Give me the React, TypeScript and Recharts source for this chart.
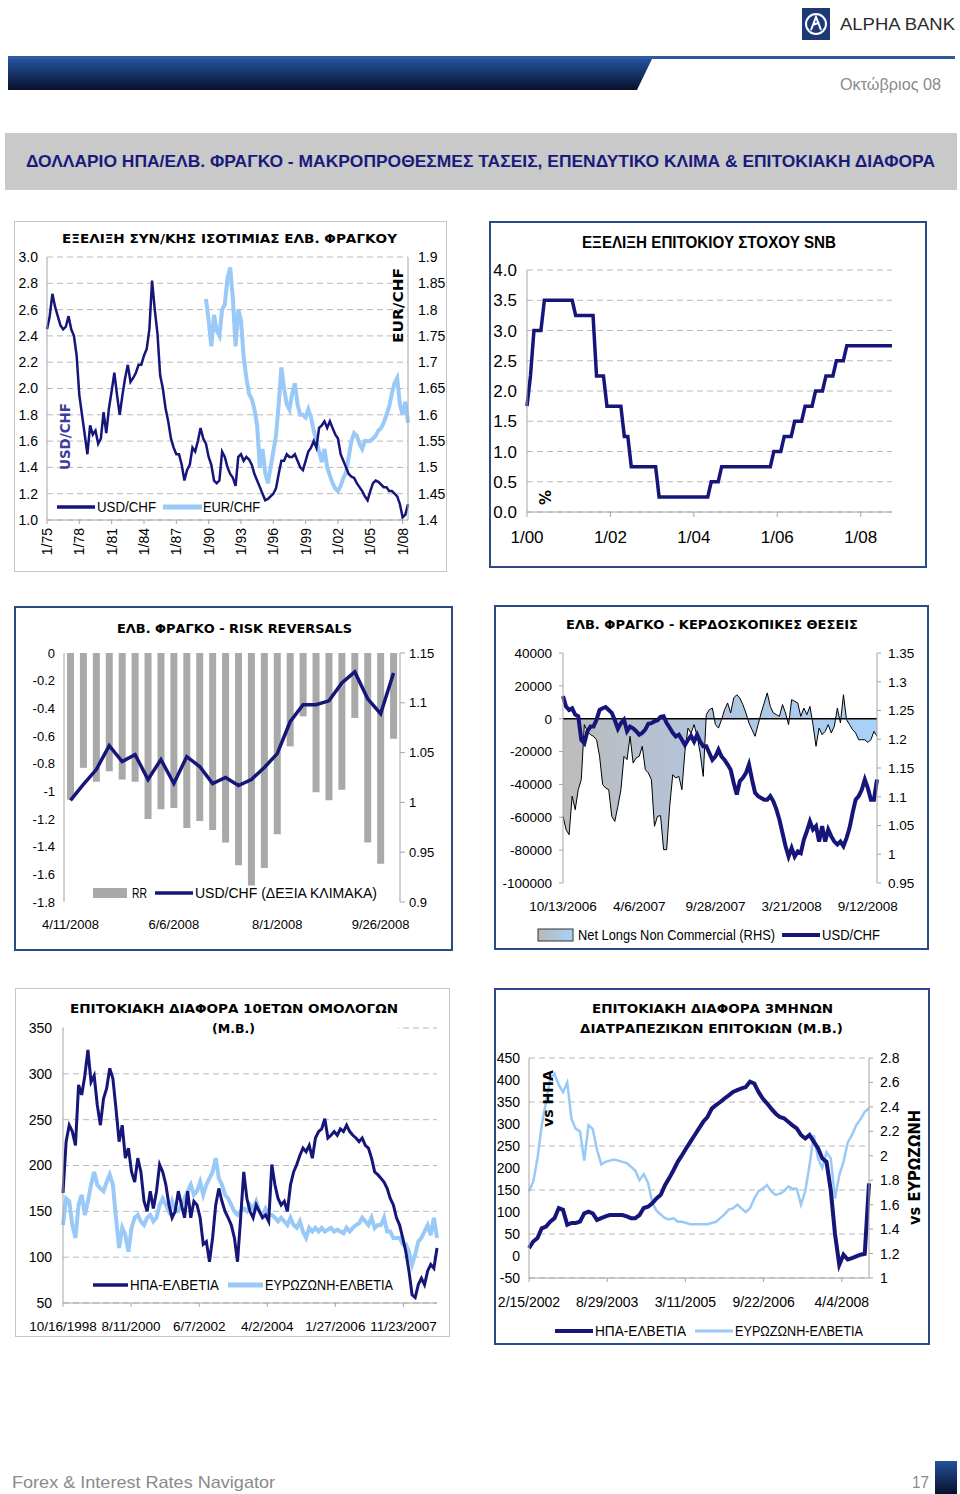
import React from 'react';
import { LineChart, Line, ComposedChart, Bar, Area, XAxis, YAxis, CartesianGrid, ReferenceLine } from 'recharts';

const NAVY = '#15157a';
const SKY = '#99c9f7';
const AXIS = '#a6a6a6';
const GRID = '#b8b8b8';
const SANS = '"Liberation Sans", Arial, sans-serif';
const VERD = '"DejaVu Sans", Verdana, sans-serif';
const GRAY_BORDER = '1px solid #c6c6c6';
const BLUE_BORDER = '2px solid #2c4a86';

// ---------- chart 1: USD/CHF & EUR/CHF, quarterly from 1975 Q1
const usdChfQ = [
  2.45, 2.55, 2.72, 2.62, 2.55, 2.48, 2.45, 2.47, 2.55, 2.45, 2.40, 2.25,
  1.95, 1.80, 1.65, 1.50, 1.72, 1.65, 1.68, 1.58, 1.62, 1.82, 1.66, 1.85,
  1.98, 2.12, 1.95, 1.80, 1.95, 2.08, 2.18, 2.05, 2.08, 2.12, 2.18, 2.18,
  2.25, 2.30, 2.45, 2.82, 2.60, 2.42, 2.10, 2.00, 1.85, 1.75, 1.62, 1.55,
  1.50, 1.50, 1.42, 1.30, 1.38, 1.42, 1.55, 1.52, 1.60, 1.70, 1.62, 1.58,
  1.48, 1.42, 1.30, 1.28, 1.30, 1.52, 1.48, 1.40, 1.35, 1.32, 1.26, 1.48,
  1.50, 1.45, 1.48, 1.46, 1.42, 1.35, 1.30, 1.25, 1.20, 1.15, 1.16, 1.18,
  1.20, 1.24, 1.35, 1.45, 1.45, 1.50, 1.48, 1.48, 1.50, 1.45, 1.40, 1.38,
  1.45, 1.52, 1.55, 1.60, 1.55, 1.70, 1.72, 1.75, 1.70, 1.75, 1.70, 1.65,
  1.62, 1.50, 1.45, 1.40, 1.35, 1.33, 1.32, 1.28, 1.25, 1.22, 1.18, 1.15,
  1.22, 1.28, 1.30, 1.29, 1.27, 1.25, 1.25, 1.22, 1.22, 1.20, 1.18, 1.12,
  1.02, 1.04, 1.12,
];
const eurChfStart = 59; // 1989 Q4
const eurChfQ = [
  1.82,
  1.78, 1.73, 1.79, 1.76, 1.75, 1.80, 1.81, 1.86, 1.88, 1.82, 1.73, 1.80,
  1.78, 1.71, 1.67, 1.64, 1.63, 1.61, 1.58, 1.50, 1.535, 1.49, 1.47, 1.50,
  1.53, 1.56, 1.62, 1.69, 1.65, 1.62, 1.61, 1.64, 1.66, 1.62, 1.60, 1.60,
  1.595, 1.61, 1.595, 1.57, 1.55, 1.53, 1.51, 1.535, 1.50, 1.485, 1.47, 1.46,
  1.455, 1.465, 1.48, 1.49, 1.52, 1.55, 1.565, 1.56, 1.545, 1.535, 1.55, 1.55,
  1.55, 1.555, 1.56, 1.57, 1.575, 1.585, 1.60, 1.615, 1.64, 1.66, 1.67, 1.62,
  1.60, 1.625, 1.585,
];
const c1Left = [1.0, 1.2, 1.4, 1.6, 1.8, 2.0, 2.2, 2.4, 2.6, 2.8, 3.0];
const c1Right = [1.4, 1.45, 1.5, 1.55, 1.6, 1.65, 1.7, 1.75, 1.8, 1.85, 1.9];

// ---------- chart 2: SNB target rate, monthly from Jan 2000
const snbRate = [
  1.75, 2.25, 3.0, 3.0, 3.0, 3.5, 3.5, 3.5, 3.5, 3.5, 3.5, 3.5,
  3.5, 3.5, 3.25, 3.25, 3.25, 3.25, 3.25, 3.25, 2.25, 2.25, 2.25, 1.75,
  1.75, 1.75, 1.75, 1.75, 1.25, 1.25, 0.75, 0.75, 0.75, 0.75, 0.75, 0.75,
  0.75, 0.75, 0.25, 0.25, 0.25, 0.25, 0.25, 0.25, 0.25, 0.25, 0.25, 0.25,
  0.25, 0.25, 0.25, 0.25, 0.25, 0.5, 0.5, 0.5, 0.75, 0.75, 0.75, 0.75,
  0.75, 0.75, 0.75, 0.75, 0.75, 0.75, 0.75, 0.75, 0.75, 0.75, 0.75, 1.0,
  1.0, 1.0, 1.25, 1.25, 1.25, 1.5, 1.5, 1.5, 1.75, 1.75, 1.75, 2.0,
  2.0, 2.0, 2.25, 2.25, 2.25, 2.5, 2.5, 2.5, 2.75, 2.75, 2.75, 2.75,
  2.75, 2.75, 2.75, 2.75, 2.75, 2.75, 2.75, 2.75, 2.75, 2.75,
];
const c2Ticks = [0, 0.5, 1, 1.5, 2, 2.5, 3, 3.5, 4];

// ---------- chart 3: risk reversals, weekly from 4/11/2008
const rrValues = [
  -1.06, -0.83, -0.93, -0.855, -0.915, -0.93, -1.2, -1.13, -1.12, -1.265, -1.215, -1.28, -1.37,
  -1.535, -1.68, -1.555, -1.31, -0.675, -0.458, -1.007, -1.065, -0.988, -0.47, -1.37, -1.523, -0.62,
];
const rrUsdChf = [
  1.002, 1.018, 1.033, 1.057, 1.041, 1.048, 1.023, 1.043, 1.019, 1.046, 1.036, 1.019, 1.025,
  1.017, 1.023, 1.035, 1.049, 1.081, 1.098, 1.098, 1.102, 1.12, 1.131, 1.104, 1.089, 1.13,
];
const c3Left = [0, -0.2, -0.4, -0.6, -0.8, -1, -1.2, -1.4, -1.6, -1.8];
const c3Right = [0.9, 0.95, 1, 1.05, 1.1, 1.15];

// ---------- chart 4: speculative positions, weekly from 10/13/2006
const netLongs = [
  -59400, -67500, -70600, -47200, -55400, -43200, -37100, -3600, -7700, -9700,
  -10700, -12800, -22900, -40100, -42200, -43200, -59400, -62500, -53300, -43200,
  -22900, -24900, -10700, -27000, -23900, -22900, -16800, -31000, -33000, -37100,
  -65500, -59400, -59000, -79700, -79700, -53300, -34100, -36100, -35100, -43200,
  -19900, -5700, -8700, -3600, -10700, -20900, -35100, 2500, 5500, 6500,
  -3600, -5700, -600, 5500, 9600, 3500, 12600, 14600, 12600, 8600,
  3500, -2600, -6700, -10700, -3600, 3500, 9600, 15700, 7500, 3500,
  2500, 1400, 8600, 3500, -3600, 11600, 10600, 9600, 1400, 6500,
  2500, 7500, -3600, -16800, -5700, -9700, -7700, -3600, -8700, -4600,
  6500, -2600, 14600, -600, -3600, -6700, -8700, -12800, -12800, -12800,
  -14400, -12800, -7700, -10700,
];
const posUsdChf = [
  1.275, 1.257, 1.251, 1.254, 1.243, 1.24, 1.199, 1.193, 1.214, 1.222,
  1.222, 1.234, 1.251, 1.254, 1.256, 1.251, 1.246, 1.233, 1.218, 1.228,
  1.234, 1.214, 1.222, 1.219, 1.214, 1.208, 1.211, 1.217, 1.227, 1.228,
  1.231, 1.233, 1.239, 1.24, 1.228, 1.22, 1.211, 1.205, 1.208, 1.199,
  1.19, 1.199, 1.206, 1.196, 1.208, 1.196, 1.188, 1.188, 1.176, 1.164,
  1.17, 1.182, 1.17, 1.164, 1.156, 1.147, 1.124, 1.104, 1.127, 1.133,
  1.141, 1.156, 1.13, 1.107, 1.101, 1.098, 1.095, 1.095, 1.101, 1.092,
  1.078, 1.06, 1.037, 1.014, 0.996, 1.011, 0.996, 1.005, 1.002, 1.025,
  1.04, 1.057, 1.043, 1.049, 1.022, 1.049, 1.022, 1.043, 1.031, 1.022,
  1.017, 1.022, 1.014, 1.028, 1.046, 1.072, 1.095, 1.101, 1.112, 1.13,
  1.115, 1.095, 1.095, 1.13,
];
const c4Left = [40000, 20000, 0, -20000, -40000, -60000, -80000, -100000];
const c4Right = [0.95, 1, 1.05, 1.1, 1.15, 1.2, 1.25, 1.3, 1.35];

// ---------- chart 5: 10y bond spreads (bp), monthly from 10/1998
const bondUs = [
  170, 226, 244, 237, 222, 288, 277, 298, 326, 291, 298, 266, 244, 273, 284, 306, 295, 262, 226, 244,
  208, 219, 193, 182, 208, 193, 161, 150, 172, 153, 172, 201, 193, 179, 157, 143, 150, 172, 157, 143,
  172, 143, 161, 157, 143, 114, 117, 95, 121, 157, 175, 161, 150, 143, 135, 121, 95, 143, 193, 164,
  150, 143, 157, 150, 143, 146, 139, 201, 179, 164, 157, 161, 150, 179, 193, 201, 211, 219, 215, 222,
  208, 230, 237, 240, 251, 230, 233, 237, 233, 240, 237, 244, 237, 233, 230, 226, 230, 222, 219, 208,
  193, 190, 186, 182, 175, 164, 157, 143, 135, 121, 106, 85, 59, 56, 70, 77, 70, 85, 92, 88,
  110,
];
const bondEu = [
  135, 164, 161, 135, 121, 157, 168, 146, 161, 179, 193, 179, 175, 172, 182, 190, 179, 143, 110, 132,
  124, 106, 132, 143, 146, 139, 135, 143, 146, 139, 143, 157, 164, 157, 150, 161, 150, 150, 157, 164,
  172, 179, 168, 172, 182, 168, 179, 186, 193, 208, 186, 179, 168, 164, 157, 150, 146, 150, 153, 150,
  157, 153, 161, 150, 146, 153, 146, 146, 143, 139, 143, 139, 135, 143, 135, 132, 139, 128, 121, 132,
  128, 132, 128, 132, 128, 130, 132, 128, 130, 128, 126, 132, 128, 132, 135, 137, 143, 139, 135, 143,
  132, 135, 135, 143, 128, 128, 121, 121, 121, 114, 114, 106, 92, 103, 117, 121, 128, 135, 124, 143,
  121,
];
const bondTickLabels = ['10/16/1998', '8/11/2000', '6/7/2002', '4/2/2004', '1/27/2006', '11/23/2007'];
const c5Left = [50, 100, 150, 200, 250, 300, 350];

// ---------- chart 6: 3m interbank spreads, monthly from 2/2002
const moneyUs = [
  18, 33, 41, 63, 67, 78, 86, 109, 105, 71, 75, 75, 78, 97, 101, 97, 82, 86, 90, 93,
  93, 93, 93, 90, 86, 86, 93, 109, 112, 120, 131, 139, 161, 177, 195, 214, 229, 245, 260, 275,
  290, 305, 316, 335, 343, 350, 358, 365, 373, 377, 381, 384, 396, 392, 373, 358, 347, 335, 324, 316,
  313, 305, 297, 290, 275, 267, 275, 260, 245, 222, 214, 150, 50, -20, 3, -8, -5, -1, 3, 5,
  165,
];
const moneyEu = [
  1.71, 1.79, 1.98, 2.25, 2.44, 2.63, 2.67, 2.58, 2.52, 2.60, 2.30, 2.22, 2.20, 1.96, 2.25, 2.22, 2.05, 1.93, 1.95, 1.96,
  1.97, 1.96, 1.95, 1.94, 1.91, 1.88, 1.80, 1.85, 1.78, 1.62, 1.55, 1.52, 1.49, 1.48, 1.49, 1.46, 1.46, 1.45, 1.44, 1.44,
  1.44, 1.44, 1.44, 1.45, 1.46, 1.49, 1.52, 1.56, 1.57, 1.60, 1.57, 1.54, 1.57, 1.65, 1.71, 1.73, 1.76, 1.71, 1.68, 1.69,
  1.71, 1.75, 1.73, 1.73, 1.60, 1.71, 1.92, 2.17, 1.98, 1.90, 2.03, 1.98, 1.65, 1.84, 1.95, 2.11, 2.17, 2.25, 2.30, 2.36,
  2.39,
];
const moneyTickLabels = ['2/15/2002', '8/29/2003', '3/11/2005', '9/22/2006', '4/4/2008'];
const c6Left = [-50, 0, 50, 100, 150, 200, 250, 300, 350, 400, 450];
const c6Right = [1, 1.2, 1.4, 1.6, 1.8, 2, 2.2, 2.4, 2.6, 2.8];

// ---------- helpers
const yy = (y: number) => String(y).slice(2);
const usDate = (d: Date) => `${d.getMonth() + 1}/${d.getDate()}/${d.getFullYear()}`;
const parseUS = (s: string) => {
  const [mo, d, y] = s.split('/').map(Number);
  return new Date(y, mo - 1, d);
};
const monthsFrom = (a: string, b: string) => (parseUS(b).getTime() - parseUS(a).getTime()) / (86400000 * 30.4375);
const num = (digits: number) => (v: number) => String(Number(v.toFixed(digits)));

const chfRows = usdChfQ.map((v, i) => ({
  q: `${[1, 4, 7, 10][i % 4]}/${yy(1975 + Math.floor(i / 4))}`,
  usd: v,
  eur: i >= eurChfStart ? eurChfQ[i - eurChfStart] : null,
}));
const snbRows = snbRate.map((v, i) => ({ m: `${(i % 12) + 1}/${yy(2000 + Math.floor(i / 12))}`, rate: v }));
const rrRows = rrValues.map((v, i) => ({ d: usDate(new Date(2008, 3, 11 + 7 * i)), rr: v, usd: rrUsdChf[i] }));
const posRows = netLongs.map((v, i) => ({ d: usDate(new Date(2006, 9, 13 + 7 * i)), net: v, usd: posUsdChf[i] }));
const bondRows = bondUs.map((v, i) => ({ m: i, us: v, eu: bondEu[i] }));
const bondTicks = bondTickLabels.map((s) => monthsFrom(bondTickLabels[0], s));
const moneyRows = moneyUs.map((v, i) => ({ m: i, us: v, eu: moneyEu[i] }));
const moneyTicks = moneyTickLabels.map((s) => monthsFrom(moneyTickLabels[0], s));
const labelAt = (ticks: number[], labels: string[]) => (v: number) => {
  const k = ticks.findIndex((t) => Math.abs(t - v) < 0.001);
  return k >= 0 ? labels[k] : '';
};

const tickStyle = (size: number) => ({ fontSize: size, fill: '#000', fontFamily: SANS });

const RotTick = (props: any) => {
  const { x, y, payload } = props;
  return (
    <text x={x} y={y} transform={`rotate(-90 ${x} ${y})`} textAnchor="end" dy="0.35em" fontSize={14} fontFamily={SANS} fill="#000">
      {payload.value}
    </text>
  );
};

function Panel({ left, top, width, height, border, children }: any) {
  return (
    <div style={{ position: 'absolute', left, top, width, height }}>
      {children}
      <div style={{ position: 'absolute', left: 0, top: 0, width, height, border, boxSizing: 'border-box', pointerEvents: 'none' }} />
    </div>
  );
}

type LP = { x: number; y: number; len?: number; size: number; bold?: boolean; fill?: string; family?: string; vertical?: boolean; children: React.ReactNode };
const Label = ({ x, y, len, size, bold, fill = '#000', family = SANS, vertical, children }: LP) => (
  <text
    x={x}
    y={y}
    fontSize={size}
    fontWeight={bold ? 700 : 400}
    fill={fill}
    fontFamily={family}
    textLength={len}
    lengthAdjust={len ? 'spacingAndGlyphs' : undefined}
    transform={vertical ? `rotate(-90 ${x} ${y})` : undefined}
  >
    {children}
  </text>
);

export default function App() {
  return (
    <div style={{ position: 'absolute', left: 0, top: 0, width: 960, height: 1494, background: '#fff', overflow: 'hidden' }}>
      {/* 1: long-term USD/CHF, EUR/CHF */}
      <Panel left={14} top={221} width={433} height={351} border={GRAY_BORDER}>
        <LineChart width={433} height={351} data={chfRows} margin={{ top: 36, right: 0, bottom: 0, left: 0 }}>
          <CartesianGrid yAxisId="l" vertical={false} stroke={GRID} strokeDasharray="6 4" />
          <XAxis dataKey="q" interval={11} height={52} tick={RotTick} tickSize={4} tickMargin={4} stroke={AXIS} />
          <YAxis yAxisId="l" width={33} domain={[1, 3]} ticks={c1Left} tickFormatter={(v: number) => v.toFixed(1)}
            tick={tickStyle(14)} stroke={AXIS} tickLine={false} tickSize={4} tickMargin={5} />
          <YAxis yAxisId="r" orientation="right" width={39} domain={[1.4, 1.9]} ticks={c1Right} tickFormatter={num(2)}
            tick={tickStyle(14)} stroke={AXIS} tickLine={false} tickSize={4} tickMargin={6} />
          <Line yAxisId="r" dataKey="eur" stroke={SKY} strokeWidth={4} dot={false} isAnimationActive={false} />
          <Line yAxisId="l" dataKey="usd" stroke={NAVY} strokeWidth={2.5} dot={false} isAnimationActive={false} />
        </LineChart>
      </Panel>

      {/* 2: SNB target rate */}
      <Panel left={489} top={221} width={438} height={347} border={BLUE_BORDER}>
        <LineChart width={438} height={347} data={snbRows} margin={{ top: 49, right: 35, bottom: 0, left: 0 }}>
          <CartesianGrid vertical={false} stroke={GRID} strokeDasharray="6 4" />
          <XAxis dataKey="m" interval={23} height={56} tick={tickStyle(17)} tickSize={5} tickMargin={14} stroke={AXIS} />
          <YAxis width={38} domain={[0, 4]} ticks={c2Ticks} tickFormatter={(v: number) => v.toFixed(1)}
            tick={tickStyle(17)} stroke={AXIS} tickLine={false} tickSize={4} tickMargin={6} />
          <Line dataKey="rate" stroke={NAVY} strokeWidth={3.5} dot={false} isAnimationActive={false} />
        </LineChart>
      </Panel>

      {/* 3: risk reversals */}
      <Panel left={14} top={606} width={439} height={345} border={BLUE_BORDER}>
        <ComposedChart width={439} height={345} data={rrRows} margin={{ top: 47, right: 0, bottom: 0, left: 0 }}>
          <XAxis dataKey="d" interval={7} height={49} axisLine={false} tickLine={false} tickSize={0} tickMargin={18} tick={tickStyle(13)} />
          <YAxis yAxisId="l" width={50} domain={[-1.8, 0]} ticks={c3Left} tickFormatter={num(1)}
            tick={tickStyle(13)} stroke={AXIS} tickLine={false} tickSize={4} tickMargin={5} />
          <YAxis yAxisId="r" orientation="right" width={53} domain={[0.9, 1.15]} ticks={c3Right} tickFormatter={num(2)}
            tick={tickStyle(13)} stroke={AXIS} tickSize={5} tickMargin={4} />
          <Bar yAxisId="l" dataKey="rr" fill="#a9a9a9" barSize={7} isAnimationActive={false} />
          <Line yAxisId="r" dataKey="usd" stroke={NAVY} strokeWidth={3.5} dot={false} isAnimationActive={false} />
        </ComposedChart>
      </Panel>

      {/* 4: speculative positions */}
      <Panel left={494} top={605} width={435} height={345} border={BLUE_BORDER}>
        <ComposedChart width={435} height={345} data={posRows} margin={{ top: 48, right: 0, bottom: 37, left: 0 }}>
          <defs>
            <linearGradient id="posFill" x1="0" y1="0" x2="1" y2="0">
              <stop offset="0" stopColor="#bcbcbc" />
              <stop offset="0.45" stopColor="#b2c4dc" />
              <stop offset="1" stopColor="#a8d2f8" />
            </linearGradient>
          </defs>
          <XAxis dataKey="d" interval={24} height={30} axisLine={false} tickLine={false} tickSize={0} tickMargin={18} tick={tickStyle(13.5)} />
          <YAxis yAxisId="l" width={69} domain={[-100000, 40000]} ticks={c4Left}
            tick={tickStyle(13.5)} stroke={AXIS} tickSize={4} tickMargin={7} />
          <YAxis yAxisId="r" orientation="right" width={52} domain={[0.95, 1.35]} ticks={c4Right} tickFormatter={num(2)}
            tick={tickStyle(13.5)} stroke={AXIS} tickSize={4} tickMargin={7} />
          <Area yAxisId="l" dataKey="net" type="linear" stroke="#000" strokeWidth={1} fill="url(#posFill)" fillOpacity={1} isAnimationActive={false} />
          <ReferenceLine yAxisId="l" y={0} stroke="#000" strokeWidth={1.5} />
          <Line yAxisId="r" dataKey="usd" stroke={NAVY} strokeWidth={4} dot={false} isAnimationActive={false} />
        </ComposedChart>
      </Panel>

      {/* 5: 10y spreads */}
      <Panel left={15} top={988} width={435} height={349} border={GRAY_BORDER}>
        <LineChart width={435} height={349} data={bondRows} margin={{ top: 40, right: 13, bottom: 0, left: 0 }}>
          <CartesianGrid vertical={false} stroke={GRID} strokeDasharray="6 4" />
          <XAxis dataKey="m" type="number" domain={[0, 120]} ticks={bondTicks} interval={0} tickFormatter={labelAt(bondTicks, bondTickLabels)}
            height={34} tick={tickStyle(13.5)} stroke={AXIS} tickSize={4} tickMargin={14} />
          <YAxis width={48} domain={[50, 350]} ticks={c5Left} tick={tickStyle(14)} stroke={AXIS} tickLine={false} tickSize={4} tickMargin={7} />
          <Line dataKey="eu" stroke={SKY} strokeWidth={4} dot={false} isAnimationActive={false} />
          <Line dataKey="us" stroke={NAVY} strokeWidth={3} dot={false} isAnimationActive={false} />
        </LineChart>
      </Panel>

      {/* 6: 3m spreads */}
      <Panel left={494} top={988} width={436} height={357} border={BLUE_BORDER}>
        <LineChart width={436} height={357} data={moneyRows} margin={{ top: 70, right: 0, bottom: 37, left: 0 }}>
          <CartesianGrid yAxisId="l" vertical={false} stroke={GRID} strokeDasharray="6 4" />
          <XAxis dataKey="m" type="number" domain={[0, 80]} ticks={moneyTicks} interval={0} tickFormatter={labelAt(moneyTicks, moneyTickLabels)}
            height={30} tick={tickStyle(14)} stroke={AXIS} tickSize={4} tickMargin={15} />
          <YAxis yAxisId="l" width={35} domain={[-50, 450]} ticks={c6Left} tick={tickStyle(14)} stroke={AXIS} tickLine={false} tickSize={4} tickMargin={5} />
          <YAxis yAxisId="r" orientation="right" width={61} domain={[1, 2.8]} ticks={c6Right} tickFormatter={num(1)}
            tick={tickStyle(14)} stroke={AXIS} tickSize={4} tickMargin={7} />
          <Line yAxisId="r" dataKey="eu" stroke={SKY} strokeWidth={2.5} dot={false} isAnimationActive={false} />
          <Line yAxisId="l" dataKey="us" stroke={NAVY} strokeWidth={4} dot={false} isAnimationActive={false} />
        </LineChart>
      </Panel>

      <svg width={960} height={1494} style={{ position: 'absolute', left: 0, top: 0, pointerEvents: 'none' }}>
        <defs>
          <linearGradient id="hdrGrad" x1="0" y1="0" x2="0" y2="1">
            <stop offset="0" stopColor="#24529c" />
            <stop offset="1" stopColor="#07102c" />
          </linearGradient>
          <linearGradient id="legFill" x1="0" y1="0" x2="1" y2="0">
            <stop offset="0" stopColor="#b8b8b8" />
            <stop offset="1" stopColor="#a6d2fa" />
          </linearGradient>
        </defs>

        {/* page header */}
        <rect x={802} y={8} width={28} height={32} fill="#1d3a78" />
        <circle cx={816} cy={24} r={10} fill="none" stroke="#fff" strokeWidth={2} />
        <path d="M811 30 L816 17 L821 30 M812.5 25 L819.5 22.5" stroke="#fff" strokeWidth={2} fill="none" />
        <Label x={840} y={30} len={115} size={16} fill="#2b2b2b">ALPHA BANK</Label>
        <rect x={8} y={56} width={947} height={3} fill="#2f5aa2" />
        <polygon points="8,59 652,59 637,90 8,90" fill="url(#hdrGrad)" />
        <Label x={840} y={90} len={101} size={17} fill="#8a8a8a">Οκτώβριος 08</Label>
        <rect x={5} y={133} width={952} height={57} fill="#c9c9c9" />
        <Label x={26} y={167} len={909} size={17} bold fill="#1a1a7e">
          ΔΟΛΛΑΡΙΟ ΗΠΑ/ΕΛΒ. ΦΡΑΓΚΟ - ΜΑΚΡΟΠΡΟΘΕΣΜΕΣ ΤΑΣΕΙΣ, ΕΠΕΝΔΥΤΙΚΟ ΚΛΙΜΑ &amp; ΕΠΙΤΟΚΙΑΚΗ ΔΙΑΦΟΡΑ
        </Label>

        {/* chart 1 texts */}
        <Label x={62} y={243} len={335} size={13} bold family={VERD}>ΕΞΕΛΙΞΗ ΣΥΝ/ΚΗΣ ΙΣΟΤΙΜΙΑΣ ΕΛΒ. ΦΡΑΓΚΟΥ</Label>
        <Label x={70} y={470} len={67} size={14} bold family={VERD} fill="#3d3d99" vertical>USD/CHF</Label>
        <Label x={403} y={343} len={75} size={14} bold family={VERD} vertical>EUR/CHF</Label>
        <line x1={57} y1={507} x2={95} y2={507} stroke={NAVY} strokeWidth={3.5} />
        <Label x={97} y={512} len={59} size={14}>USD/CHF</Label>
        <line x1={163} y1={507} x2={202} y2={507} stroke={SKY} strokeWidth={5} />
        <Label x={203} y={512} len={57} size={14}>EUR/CHF</Label>

        {/* chart 2 texts */}
        <Label x={582} y={248} len={254} size={16} bold>ΕΞΕΛΙΞΗ ΕΠΙΤΟΚΙΟΥ ΣΤΟΧΟΥ SNB</Label>
        <Label x={551} y={505} size={15} bold family={VERD} vertical>%</Label>

        {/* chart 3 texts */}
        <Label x={117} y={633} len={235} size={13} bold family={VERD}>ΕΛΒ. ΦΡΑΓΚΟ - RISK REVERSALS</Label>
        <rect x={93} y={888} width={34} height={10} fill="#a9a9a9" />
        <Label x={132} y={898} len={15} size={14}>RR</Label>
        <line x1={155} y1={893} x2={193} y2={893} stroke={NAVY} strokeWidth={3.5} />
        <Label x={195} y={898} len={182} size={14}>USD/CHF (ΔΕΞΙΑ ΚΛΙΜΑΚΑ)</Label>

        {/* chart 4 texts */}
        <Label x={566} y={629} len={292} size={13} bold family={VERD}>ΕΛΒ. ΦΡΑΓΚΟ - ΚΕΡΔΟΣΚΟΠΙΚΕΣ ΘΕΣΕΙΣ</Label>
        <rect x={538} y={929} width={35} height={12} fill="url(#legFill)" stroke="#333" strokeWidth={1} />
        <Label x={578} y={940} len={197} size={14}>Net Longs Non Commercial (RHS)</Label>
        <line x1={782} y1={935} x2={820} y2={935} stroke={NAVY} strokeWidth={4} />
        <Label x={822} y={940} len={58} size={14}>USD/CHF</Label>

        {/* chart 5 texts */}
        <rect x={64} y={994} width={334} height={42} fill="#fff" />
        <Label x={70} y={1013} len={328} size={13} bold family={VERD}>ΕΠΙΤΟΚΙΑΚΗ ΔΙΑΦΟΡΑ 10ΕΤΩΝ ΟΜΟΛΟΓΩΝ</Label>
        <Label x={212} y={1033} len={43} size={13} bold family={VERD}>(Μ.Β.)</Label>
        <line x1={93} y1={1285} x2={128} y2={1285} stroke={NAVY} strokeWidth={3.5} />
        <Label x={130} y={1290} len={89} size={14}>ΗΠΑ-ΕΛΒΕΤΙΑ</Label>
        <line x1={228} y1={1285} x2={263} y2={1285} stroke={SKY} strokeWidth={5} />
        <Label x={265} y={1290} len={128} size={14}>ΕΥΡΩΖΩΝΗ-ΕΛΒΕΤΙΑ</Label>

        {/* chart 6 texts */}
        <Label x={592} y={1013} len={241} size={13} bold family={VERD}>ΕΠΙΤΟΚΙΑΚΗ ΔΙΑΦΟΡΑ 3ΜΗΝΩΝ</Label>
        <Label x={580} y={1033} len={263} size={13} bold family={VERD}>ΔΙΑΤΡΑΠΕΖΙΚΩΝ ΕΠΙΤΟΚΙΩΝ (Μ.Β.)</Label>
        <Label x={553} y={1127} len={57} size={14} bold family={VERD} vertical>vs ΗΠΑ</Label>
        <Label x={920} y={1225} len={115} size={15} bold family={VERD} vertical>vs ΕΥΡΩΖΩΝΗ</Label>
        <line x1={555} y1={1331} x2={593} y2={1331} stroke={NAVY} strokeWidth={4} />
        <Label x={595} y={1336} len={91} size={14}>ΗΠΑ-ΕΛΒΕΤΙΑ</Label>
        <line x1={695} y1={1331} x2={733} y2={1331} stroke={SKY} strokeWidth={3} />
        <Label x={735} y={1336} len={128} size={14}>ΕΥΡΩΖΩΝΗ-ΕΛΒΕΤΙΑ</Label>

        {/* footer */}
        <Label x={12} y={1488} len={263} size={17} fill="#8a8a8a">Forex &amp; Interest Rates Navigator</Label>
        <Label x={912} y={1488} len={17} size={17} fill="#8a8a8a">17</Label>
        <rect x={935} y={1461} width={22} height={33} fill="url(#hdrGrad)" />
      </svg>
    </div>
  );
}
